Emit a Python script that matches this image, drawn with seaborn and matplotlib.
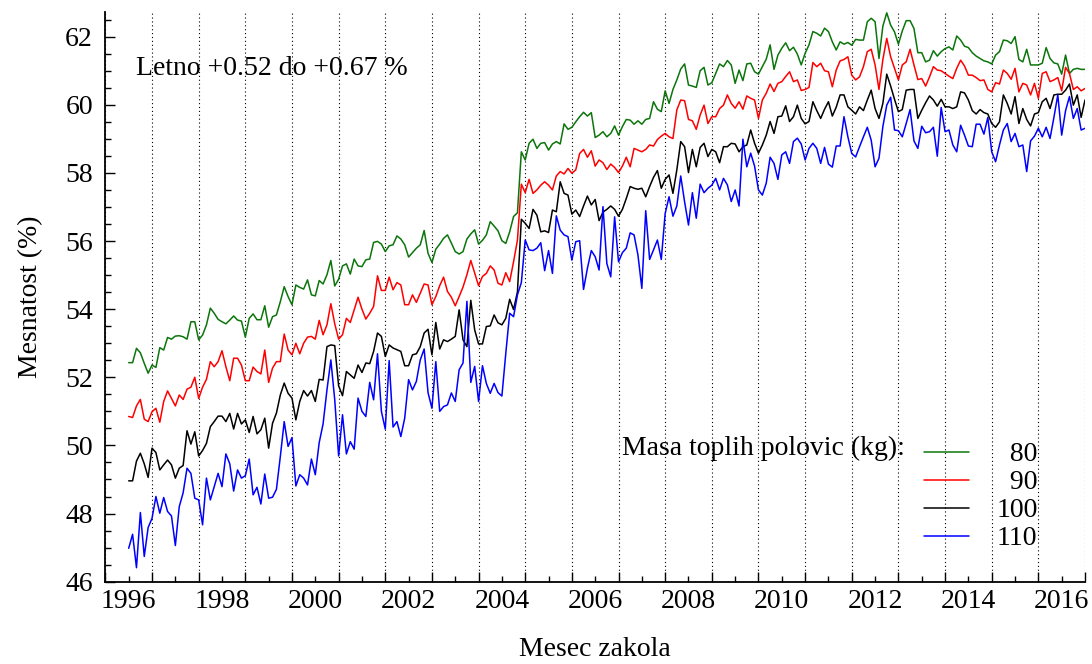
import numpy as np
import pandas as pd
import matplotlib
matplotlib.use('Agg')
import matplotlib.pyplot as plt
import seaborn as sns

# monthly values, first month = July 1996
m80 = [52.43, 52.43, 52.85, 52.72, 52.41, 52.12, 52.36, 52.29, 52.87, 52.80, 53.17, 53.12, 53.21, 53.22, 53.19,
       53.12, 53.63, 53.63, 53.10, 53.24, 53.54, 54.03, 53.88, 53.70, 53.63, 53.57, 53.68, 53.80, 53.68, 53.65,
       53.18, 53.73, 53.86, 53.69, 53.69, 54.10, 53.47, 53.78, 53.83, 54.22, 54.66, 54.37, 54.13, 54.71, 54.64,
       54.59, 54.86, 54.42, 54.39, 54.84, 54.74, 55.01, 55.43, 54.68, 54.88, 55.27, 55.33, 55.03, 55.47, 55.27, 55.25,
       55.45, 55.47, 55.96, 55.99, 55.91, 55.69, 55.86, 55.89, 56.15, 56.06, 55.89, 55.53, 55.66, 55.79, 55.89,
       56.31, 55.64, 55.37, 55.76, 55.91, 56.08, 56.18, 55.94, 55.69, 55.62, 55.69, 56.06, 56.21, 56.33, 55.91, 56.02,
       56.18, 56.57, 56.44, 56.30, 56.01, 55.93, 56.27, 56.72, 56.83, 58.62, 58.38, 58.87, 58.99, 58.72, 58.87,
       58.89, 58.67, 58.85, 58.92, 58.85, 59.44, 59.28, 59.34, 59.50, 59.65, 59.78, 59.67, 59.77, 59.04, 59.11, 59.21,
       59.06, 59.16, 59.38, 59.11, 59.36, 59.57, 59.55, 59.43, 59.53, 59.43, 59.57, 59.60, 60.09, 59.87, 59.80,
       60.41, 60.04, 60.45, 60.73, 61.05, 61.20, 60.58, 60.55, 60.51, 61.00, 61.10, 60.58, 60.65, 60.92, 61.20,
       61.12, 61.30, 61.17, 60.63, 61.02, 60.71, 61.20, 61.22, 60.97, 60.90, 61.12, 61.34, 61.76, 61.04, 61.46,
       61.66, 61.82, 61.59, 61.69, 61.49, 61.17, 61.51, 61.76, 62.15, 62.10, 62.02, 62.25, 62.15, 61.85, 61.61,
       61.85, 61.78, 61.83, 61.75, 61.92, 61.90, 61.90, 62.44, 62.54, 62.44, 61.36, 62.31, 62.70, 62.34, 62.14,
       61.78, 62.17, 62.47, 62.47, 62.24, 61.53, 61.53, 61.26, 61.31, 61.59, 61.43, 61.56, 61.65, 61.70, 61.61, 62.02,
       61.90, 61.72, 61.68, 61.53, 61.43, 61.36, 61.29, 61.26, 61.20, 61.46, 61.56, 61.90, 61.88, 61.80, 62.00,
       61.33, 61.26, 61.63, 61.17, 61.17, 61.17, 61.22, 61.68, 61.36, 61.23, 61.20, 60.90, 61.46, 60.92, 61.04,
       61.07, 61.04, 61.04]
m90 = [50.85, 50.82, 51.16, 51.35, 50.77, 50.70, 50.99, 51.09, 50.68, 51.29, 51.60, 51.38, 51.16, 51.48, 51.35,
       51.65, 51.71, 52.00, 51.38, 51.71, 51.94, 52.46, 52.31, 52.46, 52.78, 52.31, 51.90, 52.56, 52.56, 52.36,
       51.90, 51.90, 52.30, 52.17, 52.10, 52.80, 51.85, 52.27, 52.46, 52.46, 53.27, 52.80, 52.66, 53.00, 52.69,
       53.00, 53.18, 53.20, 53.12, 53.67, 53.25, 53.54, 54.16, 53.57, 53.12, 53.25, 53.73, 53.61, 53.98, 54.35, 54.00,
       53.71, 53.88, 54.08, 54.98, 54.55, 54.55, 54.94, 54.57, 54.78, 54.71, 54.13, 54.13, 54.42, 54.20, 54.47,
       54.74, 54.71, 54.13, 54.37, 54.69, 54.94, 54.52, 54.35, 54.10, 54.37, 54.65, 55.01, 55.43, 55.06, 54.69, 54.96,
       55.05, 55.27, 55.15, 54.76, 54.71, 55.07, 54.81, 55.39, 56.03, 57.67, 57.42, 57.81, 57.40, 57.50, 57.64,
       57.74, 57.64, 57.50, 57.91, 58.04, 57.97, 58.13, 57.99, 58.09, 58.57, 58.69, 58.46, 58.65, 58.20, 58.38, 58.30,
       58.10, 58.26, 58.16, 58.01, 58.20, 58.46, 58.18, 58.72, 58.67, 58.62, 58.69, 58.82, 58.79, 58.98, 59.08,
       59.16, 59.06, 59.01, 59.85, 60.14, 60.12, 59.57, 59.53, 59.28, 59.70, 59.99, 59.45, 59.65, 59.65, 59.89,
       59.99, 60.29, 60.04, 59.90, 60.09, 59.87, 60.26, 60.19, 60.14, 59.60, 60.14, 60.34, 60.61, 60.39, 60.63,
       60.68, 60.83, 60.97, 60.68, 60.73, 60.42, 60.45, 60.51, 61.24, 61.12, 61.22, 61.00, 60.97, 60.53, 61.02,
       61.29, 61.33, 61.41, 60.87, 60.73, 60.82, 61.12, 61.56, 61.63, 61.17, 60.45, 61.33, 61.95, 61.41, 61.07,
       60.73, 61.17, 61.26, 61.63, 61.17, 60.74, 60.77, 60.55, 60.82, 61.12, 61.02, 61.00, 60.92, 60.84, 60.77, 61.07,
       61.31, 61.14, 60.87, 60.87, 60.80, 60.71, 60.73, 60.45, 60.38, 60.65, 60.61, 61.02, 60.92, 60.75, 61.07,
       60.38, 60.63, 60.58, 60.29, 60.63, 60.19, 60.92, 60.97, 60.68, 60.73, 60.80, 60.41, 61.10, 60.92, 60.45,
       60.53, 60.41, 60.48]
m100 = [48.96, 48.96, 49.54, 49.77, 49.46, 49.06, 49.92, 49.79, 49.28, 49.43, 49.57, 49.43, 49.04, 49.33, 49.41,
        50.43, 50.04, 50.40, 49.69, 49.85, 50.06, 50.55, 50.70, 50.86, 50.86, 50.70, 50.94, 50.48, 50.94, 50.63,
        50.75, 50.38, 50.85, 50.34, 50.46, 50.80, 49.92, 50.65, 50.95, 51.48, 51.83, 51.53, 51.39, 50.75, 51.29,
        51.61, 51.45, 51.61, 51.29, 51.94, 51.92, 52.90, 52.95, 52.93, 51.75, 51.46, 52.17, 52.07, 51.97, 52.36, 52.14,
        52.42, 52.40, 52.76, 53.30, 53.20, 52.61, 52.95, 52.86, 52.81, 52.76, 52.34, 52.34, 52.66, 52.69, 52.90,
        53.30, 53.41, 52.66, 53.61, 52.83, 53.10, 53.05, 53.12, 53.20, 53.98, 53.10, 52.90, 54.26, 53.39, 52.98, 52.98,
        53.49, 53.51, 53.83, 53.60, 53.54, 53.73, 54.29, 53.99, 54.51, 56.64, 56.52, 56.37, 56.93, 56.76, 56.27,
        56.30, 56.25, 56.91, 56.86, 57.74, 57.40, 57.35, 56.79, 56.91, 56.72, 57.03, 57.32, 57.06, 57.22, 56.60, 56.85,
        56.93, 57.03, 56.93, 56.73, 56.93, 57.25, 57.60, 57.55, 57.52, 57.55, 57.30, 57.60, 57.87, 58.07, 57.55,
        57.81, 57.94, 57.40, 58.09, 58.92, 58.77, 58.01, 58.69, 58.18, 58.75, 58.87, 58.48, 58.69, 58.62, 58.30,
        58.77, 58.77, 58.87, 58.85, 58.62, 58.77, 58.82, 59.26, 58.87, 58.58, 58.82, 59.11, 59.51, 59.16, 59.65,
        59.67, 59.97, 59.51, 59.65, 59.99, 59.60, 59.44, 59.51, 60.09, 59.83, 59.60, 59.87, 60.09, 59.67, 59.93,
        60.29, 60.29, 59.94, 59.84, 59.73, 59.94, 59.83, 60.14, 60.43, 59.89, 59.60, 60.04, 60.90, 60.55, 60.16,
        59.80, 59.86, 60.43, 60.45, 60.45, 59.60, 59.84, 60.06, 60.26, 60.14, 59.96, 60.16, 59.94, 59.94, 59.89, 59.94,
        60.38, 60.35, 60.14, 59.83, 59.73, 59.86, 59.77, 59.73, 59.45, 59.34, 59.50, 60.29, 60.04, 59.73, 60.24,
        59.45, 59.89, 59.57, 59.38, 59.73, 59.77, 60.09, 60.19, 59.89, 60.29, 60.31, 60.31, 60.43, 60.61, 59.99,
        60.29, 59.63, 60.14]
m110 = [46.98, 47.39, 46.41, 48.03, 46.74, 47.59, 47.86, 48.50, 48.01, 48.47, 48.06, 47.93, 47.06, 48.20, 48.61,
        49.33, 49.18, 48.45, 48.40, 47.67, 49.04, 48.40, 48.79, 49.18, 48.79, 49.75, 49.46, 48.66, 49.28, 49.04,
        49.11, 49.60, 48.55, 48.77, 48.28, 49.16, 48.45, 48.48, 48.71, 49.67, 50.70, 49.97, 50.23, 48.81, 49.14,
        49.04, 48.84, 49.60, 49.14, 50.08, 50.63, 51.63, 52.51, 51.34, 49.69, 50.90, 49.75, 50.11, 49.89, 51.39, 51.00,
        50.85, 51.85, 51.34, 52.69, 51.00, 50.48, 52.49, 50.54, 50.70, 50.26, 50.80, 51.93, 51.63, 51.88, 52.51,
        52.83, 51.55, 51.09, 52.46, 51.00, 51.14, 51.19, 51.54, 51.29, 52.22, 52.42, 54.23, 51.85, 52.32, 51.29, 52.34,
        51.82, 51.53, 51.82, 51.55, 51.45, 52.70, 53.88, 53.78, 54.42, 54.78, 56.03, 55.74, 55.72, 55.79, 55.95,
        55.13, 55.72, 55.05, 56.74, 56.32, 56.18, 56.13, 55.44, 55.98, 56.01, 54.58, 55.20, 55.72, 55.54, 55.15, 57.01,
        55.34, 54.95, 56.71, 55.39, 55.66, 55.79, 56.24, 56.18, 55.59, 54.61, 56.89, 55.46, 55.74, 56.03, 55.46,
        56.81, 57.30, 56.73, 57.03, 57.91, 57.15, 56.47, 57.42, 56.67, 57.67, 57.42, 57.55, 57.64, 57.84, 57.50,
        57.84, 57.65, 57.16, 57.50, 57.03, 58.99, 58.18, 58.58, 58.20, 57.50, 57.35, 57.70, 58.46, 58.28, 57.81,
        58.53, 58.62, 58.28, 58.92, 59.02, 58.85, 58.38, 58.72, 58.87, 58.72, 58.28, 58.75, 58.26, 58.17, 58.79,
        58.79, 59.65, 59.06, 58.57, 58.47, 58.77, 59.06, 59.34, 58.96, 58.18, 58.43, 59.36, 59.99, 60.22, 59.26,
        59.24, 59.06, 59.45, 59.86, 58.94, 58.72, 59.37, 59.18, 59.21, 59.34, 58.49, 59.92, 59.21, 59.26, 58.82, 58.62,
        59.40, 59.11, 58.79, 58.77, 59.43, 59.43, 59.14, 59.63, 58.62, 58.33, 58.82, 59.26, 59.45, 58.92, 59.16,
        58.77, 58.82, 58.04, 58.94, 59.08, 59.31, 59.06, 59.34, 59.01, 59.63, 60.29, 59.11, 59.83, 60.24, 59.60,
        59.89, 59.26, 59.31]

masses = ['80', '90', '100', '110']
legend_labels = ['\u200780', '\u200790', '100', '110']
colors = ['#0b750b', '#ff0000', '#000000', '#0000ff']
first_month = 1996.5

t = first_month + np.arange(len(m80)) / 12
df = pd.DataFrame({
    'cas': np.tile(t, len(masses)),
    'mesnatost': m80 + m90 + m100 + m110,
    'masa': np.repeat(masses, len(t)),
})

sns.set_theme(style='ticks')
plt.rcParams['font.family'] = ['Liberation Serif', 'DejaVu Serif']
plt.rcParams['font.size'] = 20
plt.rcParams['text.color'] = 'black'
plt.rcParams['axes.labelcolor'] = 'black'
plt.rcParams['xtick.color'] = 'black'
plt.rcParams['ytick.color'] = 'black'

fig = plt.figure(figsize=(10.92, 6.64), dpi=100)
ax = fig.add_axes([0.0965, 0.124, 0.8971, 0.8577])

sns.lineplot(data=df, x='cas', y='mesnatost', hue='masa', hue_order=masses,
             palette=dict(zip(masses, colors)), estimator=None, errorbar=None,
             linewidth=1.1, legend=False, ax=ax)

ax.set_xlim(1996, 2017)
ax.set_ylim(46, 62.72)

# year boundaries carry the dotted grid, labels sit mid-year
ax.set_xticks(np.arange(1996, 2018), labels=[])
ax.set_xticks(np.arange(1996.5, 2017, 1),
              labels=[str(y) if y % 2 == 0 else '' for y in range(1996, 2017)], minor=True)
ax.set_yticks(np.arange(46, 63, 2))
ax.set_yticks(np.arange(46, 62.8, 0.5), minor=True)
ax.tick_params(axis='both', which='both', direction='in', colors='black', labelsize=20)
ax.tick_params(axis='x', which='major', length=7, width=1, pad=5)
ax.tick_params(axis='x', which='minor', length=4, width=1, pad=5)
ax.tick_params(axis='y', which='major', length=7, width=1, pad=9)
ax.tick_params(axis='y', which='minor', length=4, width=1)

ax.grid(axis='x', which='major', color='black', linestyle=(0, (1, 2.5)), linewidth=0.8)
ax.grid(axis='y', visible=False)
for s in ['top', 'right']:
    ax.spines[s].set_visible(False)
for s in ['left', 'bottom']:
    ax.spines[s].set_color('black')
    ax.spines[s].set_linewidth(1.3)

ax.set_xlabel('Mesec zakola', fontsize=20, color='black')
ax.set_ylabel('Mesnatost (%)', fontsize=20, color='black')
ax.xaxis.set_label_coords(0.5, -0.098)
ax.yaxis.set_label_coords(-0.064, 0.5)

ax.text(1996.66, 61.08, 'Letno +0.52 do +0.67 %', ha='left', va='center', fontsize=20, color='black')
ax.text(2013.14, 49.9, 'Masa toplih polovic (kg):', ha='right', va='center', fontsize=20, color='black')

handles = ax.get_lines()[:len(masses)]
leg = ax.legend(handles, legend_labels, loc='upper left', bbox_to_anchor=(0.8357, 0.2453),
                frameon=False, borderpad=0, borderaxespad=0, handlelength=1.6,
                handletextpad=1.0, labelspacing=0.09, fontsize=20)
for txt in leg.get_texts():
    txt.set_color('black')

fig.savefig('out.png', dpi=100, facecolor='white')
